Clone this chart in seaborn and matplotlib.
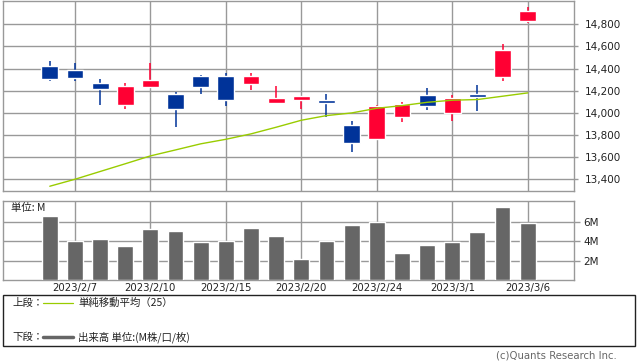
import numpy as np
import pandas as pd
import seaborn as sns
import matplotlib.pyplot as plt
from matplotlib.patches import Rectangle
from matplotlib.lines import Line2D

# daily prices (2023/2/6 - 2023/3/6)
dates = ["2023/2/6", "2023/2/7", "2023/2/8", "2023/2/9", "2023/2/10",
         "2023/2/13", "2023/2/14", "2023/2/15", "2023/2/16", "2023/2/17",
         "2023/2/20", "2023/2/21", "2023/2/22", "2023/2/24", "2023/2/27",
         "2023/2/28", "2023/3/1", "2023/3/2", "2023/3/3", "2023/3/6"]
open_ = [14424, 14387, 14270, 14071, 14234, 14171, 14333, 14333, 14261, 14090,
         14117, 14117, 13891, 13767, 13966, 14162, 14002, 14171, 14324, 14830]
high = [14469, 14451, 14306, 14270, 14451, 14189, 14342, 14360, 14360, 14243,
        14153, 14171, 13927, 14071, 14099, 14225, 14162, 14252, 14622, 14957]
low = [14288, 14288, 14071, 14035, 14230, 13873, 14171, 14062, 14207, 14081,
       14035, 13963, 13650, 13765, 13921, 14029, 13930, 14020, 14288, 14812]
close = [14309, 14315, 14216, 14243, 14297, 14035, 14234, 14117, 14333, 14135,
         14153, 14093, 13731, 14062, 14081, 14065, 14135, 14144, 14568, 14920]
sma25 = [13337, 13400, 13470, 13540, 13611, 13665, 13720, 13761, 13810, 13870,
         13933, 13975, 13999, 14041, 14065, 14095, 14114, 14120, 14150, 14180]
volume = [6.62, 4.05, 4.26, 3.54, 5.28, 5.08, 3.95, 4.05, 5.38, 4.56,
          2.21, 4.05, 5.69, 6.00, 2.82, 3.64, 3.88, 4.97, 7.54, 5.90]

tick_idx = [1, 4, 7, 10, 13, 16, 19]
price_ticks = [13400, 13600, 13800, 14000, 14200, 14400, 14600, 14800]
vol_ticks = [2, 4, 6]

UP = "#ff0033"
DOWN = "#003399"
GRID = "#999999"
MA = "#99cc00"
VOL = "#666666"

sns.set_style("white")
plt.rcParams['font.family'] = ['DejaVu Sans', 'Noto Sans CJK JP']

df = pd.DataFrame({"date": dates, "open": open_, "high": high, "low": low,
                   "close": close, "sma": sma25, "vol": volume})
df["x"] = np.arange(len(df))
df["up"] = df["close"] >= df["open"]

W, H = 638, 362
fig = plt.figure(figsize=(W / 100, H / 100), dpi=100)
ax = fig.add_axes([3 / W, 1 - 191 / H, 571 / W, 190 / H])
axv = fig.add_axes([3 / W, 1 - 280 / H, 571 / W, 79 / H])

xlim = (-1.86, 20.84)

# price panel
for a in (ax, axv):
    a.set_xlim(*xlim)
    a.set_xticks(tick_idx)
    a.grid(True, color=GRID, lw=1)
    a.set_axisbelow(True)
    for s in a.spines.values():
        s.set_color(GRID)
        s.set_linewidth(1)
    a.yaxis.tick_right()
    a.set_xlabel("")
    a.set_ylabel("")

colors = [UP if u else DOWN for u in df["up"]]
ax.vlines(df["x"], df["low"], df["high"], colors=colors, lw=1.1, zorder=2)
body_lo = np.minimum(df["open"], df["close"])
body_h = np.abs(df["close"] - df["open"]).clip(lower=8)
ax.bar(df["x"], body_h, bottom=body_lo, width=0.67, color=colors, zorder=3)
sns.lineplot(data=df, x="x", y="sma", ax=ax, color=MA, lw=1, zorder=4)
ax.set_ylim(13294, 15010)
ax.set_yticks(price_ticks)
ax.set_yticklabels([f"{v:,}" for v in price_ticks])
ax.tick_params(axis="y", right=True, length=3, width=1, color=GRID, pad=5,
               labelsize=7.5, labelcolor="#222222")
ax.tick_params(axis="x", bottom=False, labelbottom=False)
ax.set_xlabel("")
ax.set_ylabel("")

# volume panel
sns.barplot(data=df, x="x", y="vol", ax=axv, color=VOL, width=0.63,
            saturation=1, native_scale=True, zorder=3)
axv.set_xlim(*xlim)
axv.set_ylim(0, 8.15)
axv.set_yticks(vol_ticks)
axv.set_yticklabels([f"{v}M" for v in vol_ticks])
axv.tick_params(axis="y", right=True, length=4.5, width=1, color=GRID, pad=2,
                labelsize=7.5, labelcolor="#222222")
axv.set_xticks(tick_idx)
axv.set_xticklabels([dates[i] for i in tick_idx])
axv.tick_params(axis="x", bottom=False, length=0, pad=2.5, labelsize=7.3,
                labelcolor="#222222")
axv.set_xlabel("")
axv.set_ylabel("")
axv.text(8 / 571, 0.97, "単位: M", transform=axv.transAxes, ha="left", va="top",
         fontsize=7.5, family=['Noto Sans CJK JP', 'DejaVu Sans'], color="#222222")

# legend box
fig.patches.append(Rectangle((3 / W, 1 - 346 / H), 632 / W, 51 / H,
                             transform=fig.transFigure, fill=False,
                             ec="#222222", lw=1))
jp = ['Noto Sans CJK JP', 'DejaVu Sans']
fig.text(12 / W, 1 - 303 / H, "上段：", fontsize=7.5, family=jp, va="center",
         color="#222222")
fig.lines.append(Line2D([43 / W, 73 / W], [1 - 303 / H] * 2,
                        transform=fig.transFigure, color=MA, lw=0.9))
fig.text(78 / W, 1 - 303 / H, "単純移動平均（25）", fontsize=7.5, family=jp,
         va="center", color="#222222")
fig.text(12 / W, 1 - 337 / H, "下段：", fontsize=7.5, family=jp, va="center",
         color="#222222")
fig.lines.append(Line2D([43 / W, 73 / W], [1 - 337 / H] * 2,
                        transform=fig.transFigure, color=VOL, lw=2.5))
fig.text(78 / W, 1 - 337 / H, "出来高 単位:(M株/口/枚)", fontsize=7.5, family=jp,
         va="center", color="#222222")

fig.text(617 / W, 1 - 356 / H, "(c)Quants Research Inc.", fontsize=7.3,
         ha="right", va="center", color="#666666")

fig.savefig("out.png", dpi=100)
